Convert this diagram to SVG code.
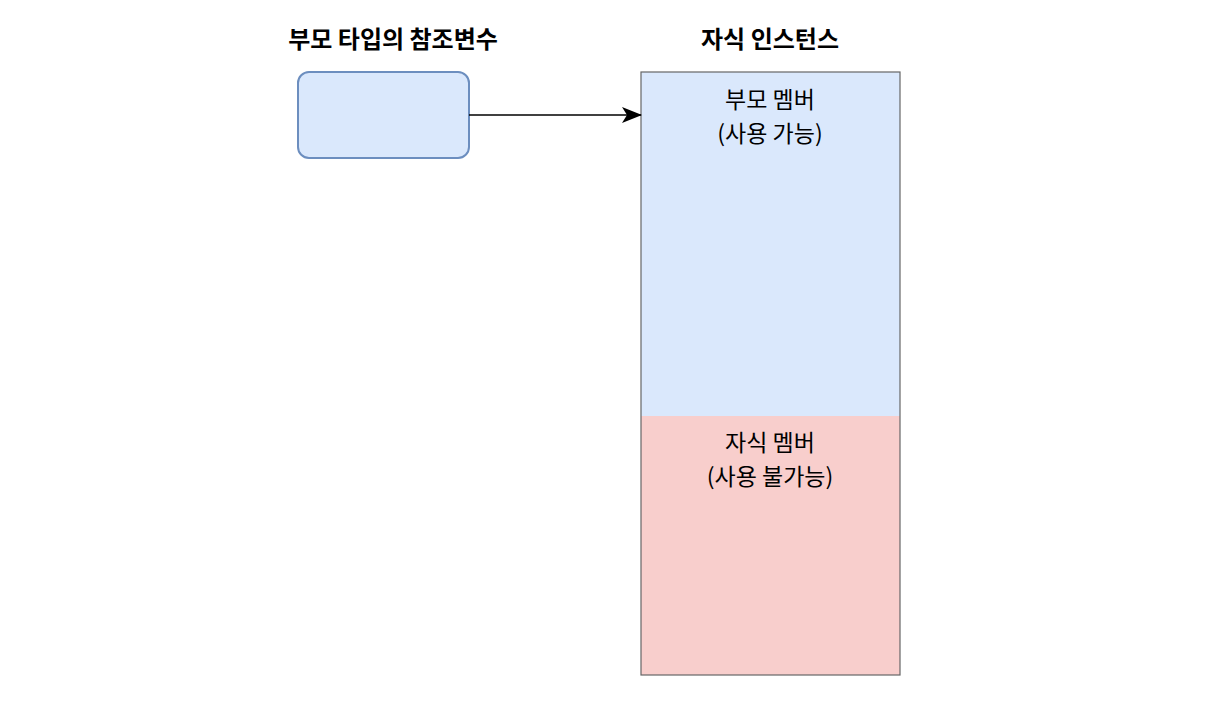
<svg xmlns="http://www.w3.org/2000/svg" width="1216" height="710" viewBox="0 0 1216 710">
<defs>
<style>
.t{font-family:"Noto Sans CJK KR","Noto Sans",sans-serif;font-size:24px;fill:#000;text-anchor:middle}
.m{font-size:23px}
.b{font-weight:bold}
</style>
<marker id="ah" viewBox="0 0 20 16" refX="19" refY="8" markerWidth="20" markerHeight="16" markerUnits="userSpaceOnUse" orient="auto">
<path d="M0,0 L20,8 L0,16 L5,8 Z" fill="#000"/>
</marker>
</defs>
<rect width="1216" height="710" fill="#fff"/>
<g id="title-ref"><text class="t b" x="393" y="48">부모 타입의 참조변수</text></g>
<g id="title-inst"><text class="t b" x="770" y="48">자식 인스턴스</text></g>
<g id="ref">
<rect x="298" y="72" width="171" height="86" rx="11" fill="#dae8fc" stroke="#6c8ebf" stroke-width="2"/>
</g>
<g id="instance">
<rect x="641" y="72" width="259" height="344" fill="#dae8fc"/>
<rect x="641" y="416" width="259" height="259" fill="#f8cecc"/>
<rect x="641" y="72" width="259" height="603" fill="none" stroke="#666" stroke-width="1.2"/>
</g>
<g id="parent-members">
<text class="t m" x="770" y="108">부모 멤버</text>
<text class="t m" x="770" y="142">(사용 가능)</text>
</g>
<g id="child-members">
<text class="t m" x="770" y="451">자식 멤버</text>
<text class="t m" x="770" y="485">(사용 불가능)</text>
</g>
<g id="connectors">
<line x1="469" y1="115" x2="641" y2="115" stroke="#000" stroke-width="1.5" marker-end="url(#ah)"/>
</g>
</svg>
